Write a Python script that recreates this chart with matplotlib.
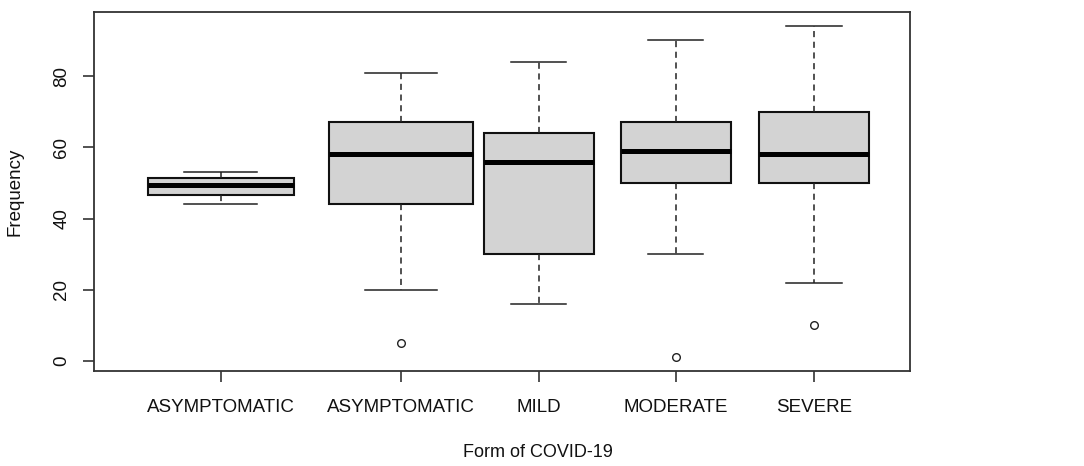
import matplotlib
matplotlib.use("Agg")
import matplotlib.pyplot as plt

# ---- data ----
categories = ["ASYMPTOMATIC", "ASYMPTOMATIC", "MILD", "MODERATE", "SEVERE"]
whisker_low = [44, 20, 16, 30, 22]
q1 = [46.5, 44, 30, 50, 50]
median = [49.5, 58, 56, 59, 58]
q3 = [51.5, 67, 64, 67, 70]
whisker_high = [53, 81, 84, 90, 94]
outliers = [[], [5], [], [1], [10]]
y_ticks = [0, 20, 40, 60, 80]

# ---- layout ----
positions = [0.919, 2.226, 3.230, 4.224, 5.229]
widths = [1.06, 1.046, 0.80, 0.80, 0.80]

plt.rcParams['font.family'] = ['Liberation Sans', 'DejaVu Sans']

fig = plt.figure(figsize=(10.84, 4.66), dpi=100)
ax = fig.add_axes([94/1084, 95/466, 816/1084, 359/466])

stats = []
for i in range(len(categories)):
    stats.append(dict(label=categories[i], whislo=whisker_low[i], q1=q1[i],
                      med=median[i], q3=q3[i], whishi=whisker_high[i],
                      fliers=outliers[i]))

bp = ax.bxp(stats, positions=positions, widths=widths, patch_artist=True,
            showfliers=True,
            boxprops=dict(facecolor='#d3d3d3', edgecolor='#111111', linewidth=1.5),
            medianprops=dict(color='black', linewidth=3.6, solid_capstyle='butt'),
            whiskerprops=dict(color='#222222', linewidth=1.1, linestyle=(0, (4, 3))),
            capprops=dict(color='#222222', linewidth=1.1),
            flierprops=dict(marker='o', markersize=5.5, markerfacecolor='white',
                            markeredgecolor='#222222', markeredgewidth=1.0))
for cap, w in zip(bp['caps'], [w for w in widths for _ in (0, 1)]):
    x0, x1 = cap.get_xdata()
    c = (x0 + x1) / 2
    cap.set_xdata([c - w / 4, c + w / 4])

ax.set_xlim(0, 816/137.7)
ax.set_ylim(-2.8, 98.0)
ax.set_yticks(y_ticks)
ax.set_yticklabels([str(v) for v in y_ticks], rotation=90, va='center', fontsize=13.5)
ax.set_xticks(positions)
ax.set_xticklabels(categories, fontsize=13.5)
ax.tick_params(axis='y', length=8, width=1.1, pad=9, colors='#222222', labelcolor='#111111')
ax.tick_params(axis='x', length=8, width=1.1, pad=12, colors='#222222', labelcolor='#111111')
for s in ax.spines.values():
    s.set_linewidth(1.3)
    s.set_color('#333333')

ax.set_ylabel("Frequency", fontsize=13.5, color='#111111')
ax.yaxis.set_label_coords(-0.0968, 0.5)
ax.yaxis.label.set_va('center')
ax.set_xlabel("Form of COVID-19", fontsize=13, color='#111111')
ax.xaxis.set_label_coords(0.544, -0.228)
ax.xaxis.label.set_va('center')

fig.savefig("out.png", dpi=100)
